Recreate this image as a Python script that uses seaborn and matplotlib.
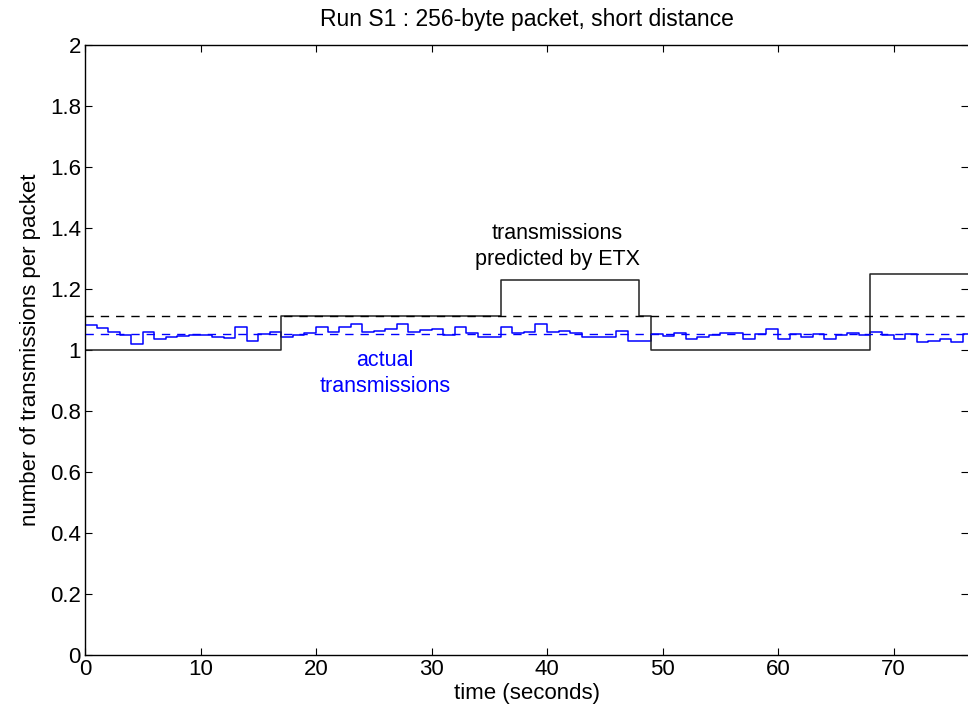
import numpy as np
import pandas as pd
import matplotlib
matplotlib.use('Agg')
import matplotlib.pyplot as plt
import seaborn as sns

# measured transmissions per packet, one value per second
actual_tx = [1.083, 1.072, 1.059, 1.050, 1.021, 1.058, 1.037, 1.041, 1.045, 1.049,
             1.049, 1.044, 1.038, 1.075, 1.028, 1.054, 1.058, 1.041, 1.048, 1.057,
             1.074, 1.058, 1.077, 1.084, 1.058, 1.063, 1.069, 1.084, 1.059, 1.064,
             1.069, 1.048, 1.076, 1.055, 1.043, 1.043, 1.075, 1.055, 1.059, 1.084,
             1.059, 1.063, 1.055, 1.043, 1.043, 1.043, 1.063, 1.029, 1.029, 1.052,
             1.047, 1.057, 1.037, 1.044, 1.050, 1.057, 1.057, 1.037, 1.054, 1.068,
             1.037, 1.052, 1.043, 1.052, 1.037, 1.049, 1.057, 1.048, 1.058, 1.050,
             1.037, 1.054, 1.025, 1.029, 1.036, 1.025, 1.052]

# ETX prediction: segment boundaries (s) and predicted values
etx_edges = [0, 17, 36, 48, 49, 68, 80]
etx_values = [1.0, 1.11, 1.23, 1.11, 1.0, 1.25]

mean_actual = 1.0535
mean_etx = 1.11

sns.set_theme(style='ticks')
plt.rcParams['font.family'] = ['Liberation Sans', 'DejaVu Sans']
plt.rcParams['text.color'] = 'black'
plt.rcParams['axes.labelcolor'] = 'black'
plt.rcParams['axes.titlecolor'] = 'black'

fig = plt.figure(figsize=(9.68, 7.12), dpi=100)
ax = fig.add_axes([85 / 968, 57 / 712, 883 / 968, 610 / 712])

# step series (repeat last value so the final step is drawn)
act_df = pd.DataFrame({'t': np.arange(len(actual_tx) + 1),
                       'v': actual_tx + [actual_tx[-1]]})
etx_df = pd.DataFrame({'t': etx_edges, 'v': etx_values + [etx_values[-1]]})

sns.lineplot(data=act_df, x='t', y='v', ax=ax, drawstyle='steps-post',
             color='#0000ff', linewidth=1.1, estimator=None)
sns.lineplot(data=etx_df, x='t', y='v', ax=ax, drawstyle='steps-post',
             color='#222222', linewidth=1.1, estimator=None)

ax.axhline(mean_etx, color='black', linestyle=(0, (6, 5)), linewidth=1.0)
ax.axhline(mean_actual, color='#0000ff', linestyle=(0, (6, 5)), linewidth=1.0)

ax.text(40.9, 1.34, 'transmissions\npredicted by ETX', ha='center', va='center',
        fontsize=15.5, color='black', linespacing=1.3)
ax.text(26.0, 0.922, 'actual\ntransmissions', ha='center', va='center',
        fontsize=15.5, color='#0000ff', linespacing=1.3)

ax.set_xlim(0, 76.45)
ax.set_ylim(0, 2)
ax.set_xticks(np.arange(0, 80, 10))
ax.set_yticks(np.round(np.arange(0, 2.01, 0.2), 1))
ax.set_yticklabels(['0', '0.2', '0.4', '0.6', '0.8', '1', '1.2', '1.4', '1.6', '1.8', '2'])
ax.tick_params(direction='in', top=True, right=True, length=5, labelsize=16,
               width=0.8, colors='black', pad=3)
ax.spines['right'].set_visible(False)
for s in ['left', 'top', 'bottom']:
    ax.spines[s].set_linewidth(1.0)
    ax.spines[s].set_color('black')

ax.set_title('Run S1 : 256-byte packet, short distance', fontsize=16.5, pad=14)
ax.set_xlabel('time (seconds)', fontsize=16, labelpad=2)
ax.set_ylabel('number of transmissions per packet', fontsize=16, labelpad=6)

fig.savefig('out.png', dpi=100)
